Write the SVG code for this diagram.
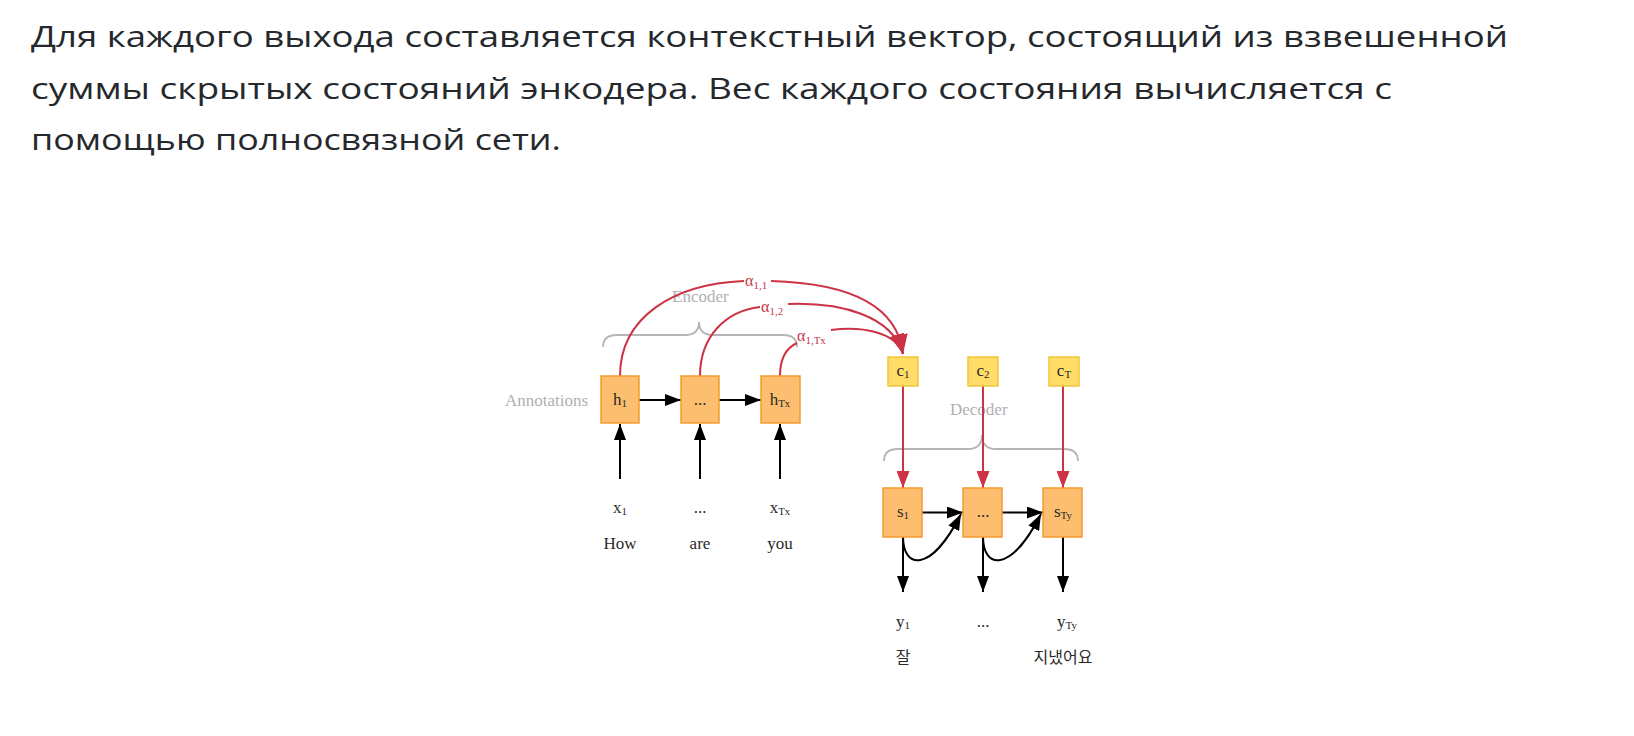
<svg xmlns="http://www.w3.org/2000/svg" width="1634" height="736" viewBox="0 0 1634 736">
<defs>
<style>
.para{font-family:"Open Sans","Noto Sans",sans-serif;font-size:30px;fill:#25282c}
.lab{font-family:"Liberation Serif",serif;font-size:17px;fill:#2a2a2a;text-anchor:middle}
.grey{font-family:"Liberation Serif",serif;font-size:17px;fill:#b0b0b0}
.alpha{font-family:"Liberation Serif",serif;font-size:16px;fill:#c8364a}
.kr{font-family:"Noto Sans CJK KR",sans-serif;font-size:16px;fill:#2a2a2a;text-anchor:middle}
.sub{font-size:11px}
.box{fill:#fdbf6f;stroke:#f39a2c;stroke-width:1.5}
.cbox{fill:#ffdd66;stroke:#f3c340;stroke-width:1.5}
.blk{stroke:#000;stroke-width:2;fill:none}
.red{stroke:#cc3344;stroke-width:2;fill:none}
.brace{stroke:#b5b5b5;stroke-width:1.8;fill:none}
</style>
<marker id="ab" markerUnits="userSpaceOnUse" viewBox="0 0 16 12" markerWidth="16" markerHeight="12" refX="16" refY="6" orient="auto"><path d="M0,0 L16,6 L0,12 z" fill="#000"/></marker>
<marker id="ar" markerUnits="userSpaceOnUse" viewBox="0 0 17 13" markerWidth="17" markerHeight="13" refX="17" refY="6.5" orient="auto"><path d="M0,0 L17,6.5 L0,13 z" fill="#cc3344"/></marker>
<marker id="arb" markerUnits="userSpaceOnUse" viewBox="0 0 20 14" markerWidth="20" markerHeight="14" refX="20" refY="7" orient="auto"><path d="M0,0 L20,7 L0,14 z" fill="#cc3344"/></marker>
</defs>
<rect width="1634" height="736" fill="#fff"/>

<g id="paragraph">
<text class="para" x="31" y="47" textLength="1477" lengthAdjust="spacingAndGlyphs">Для каждого выхода составляется контекстный вектор, состоящий из взвешенной</text>
<text class="para" x="31" y="98.5" textLength="1361" lengthAdjust="spacingAndGlyphs">суммы скрытых состояний энкодера. Вес каждого состояния вычисляется с</text>
<text class="para" x="31" y="150" textLength="530" lengthAdjust="spacingAndGlyphs">помощью полносвязной сети.</text>
</g>

<g id="braces">
<path class="brace" d="M603,347 C603,339 607,335 617,335 L685,335 C695,335 699,330 699,322 C699,330 703,335 713,335 L783,335 C793,335 797,339 797,347"/>
<path class="brace" d="M884,461 C884,453 888,449 898,449 L968,449 C978,449 982,444 982,435 C982,444 986,449 996,449 L1064,449 C1074,449 1078,453 1078,461"/>
<text class="grey" x="672" y="302">Encoder</text>
<text class="grey" x="950" y="415">Decoder</text>
<text class="grey" x="588" y="406" text-anchor="end">Annotations</text>
</g>

<g id="connectors">
<line class="blk" x1="639" y1="400" x2="681" y2="400" marker-end="url(#ab)"/>
<line class="blk" x1="719" y1="400" x2="761" y2="400" marker-end="url(#ab)"/>
<line class="blk" x1="620" y1="479" x2="620" y2="424" marker-end="url(#ab)"/>
<line class="blk" x1="700" y1="479" x2="700" y2="424" marker-end="url(#ab)"/>
<line class="blk" x1="780" y1="479" x2="780" y2="424" marker-end="url(#ab)"/>
<path class="red" d="M620,376 C620,318 672,284 744,281"/>
<path class="red" d="M771,281 C842,283 897,302 903,354" marker-end="url(#arb)"/>
<path class="red" d="M700,376 C700,336 726,311 760,307"/>
<path class="red" d="M788,304 C842,302 892,316 903,354" marker-end="url(#arb)"/>
<path class="red" d="M780,376 C780,360 786,348 797,343"/>
<path class="red" d="M831,330 C862,326 896,332 903,354" marker-end="url(#arb)"/>
<line class="red" x1="903" y1="386" x2="903" y2="488" marker-end="url(#ar)"/>
<line class="red" x1="983" y1="386" x2="983" y2="488" marker-end="url(#ar)"/>
<line class="red" x1="1063" y1="386" x2="1063" y2="488" marker-end="url(#ar)"/>
<line class="blk" x1="922" y1="512.5" x2="963" y2="512.5" marker-end="url(#ab)"/>
<line class="blk" x1="1002" y1="512.5" x2="1043" y2="512.5" marker-end="url(#ab)"/>
<path class="blk" d="M903,537 C903,568 930,575 961,514" marker-end="url(#ab)"/>
<path class="blk" d="M983,537 C983,568 1010,575 1041,514" marker-end="url(#ab)"/>
<line class="blk" x1="903" y1="537" x2="903" y2="592" marker-end="url(#ab)"/>
<line class="blk" x1="983" y1="537" x2="983" y2="592" marker-end="url(#ab)"/>
<line class="blk" x1="1063" y1="537" x2="1063" y2="592" marker-end="url(#ab)"/>
</g>

<g id="alpha-labels">
<text class="alpha" x="745" y="286">α<tspan class="sub" dy="3">1,1</tspan></text>
<text class="alpha" x="761" y="312">α<tspan class="sub" dy="3">1,2</tspan></text>
<text class="alpha" x="797" y="341">α<tspan class="sub" dy="3">1,Tx</tspan></text>
</g>

<g id="h1"><rect class="box" x="601" y="376" width="38" height="47"/><text class="lab" x="620" y="405">h<tspan class="sub" dy="2">1</tspan></text></g>
<g id="h2"><rect class="box" x="681" y="376" width="38" height="47"/><text class="lab" x="700" y="405">...</text></g>
<g id="hTx"><rect class="box" x="761" y="376" width="39" height="47"/><text class="lab" x="780" y="405">h<tspan class="sub" dy="2">Tx</tspan></text></g>

<g id="c1"><rect class="cbox" x="888" y="357" width="30" height="29"/><text class="lab" x="903" y="376">c<tspan class="sub" dy="2">1</tspan></text></g>
<g id="c2"><rect class="cbox" x="968" y="357" width="30" height="29"/><text class="lab" x="983" y="376">c<tspan class="sub" dy="2">2</tspan></text></g>
<g id="cT"><rect class="cbox" x="1049" y="357" width="30" height="29"/><text class="lab" x="1064" y="376">c<tspan class="sub" dy="2">T</tspan></text></g>

<g id="s1"><rect class="box" x="883" y="488" width="39" height="49"/><text class="lab" x="903" y="517">s<tspan class="sub" dy="2">1</tspan></text></g>
<g id="s2"><rect class="box" x="963" y="488" width="39" height="49"/><text class="lab" x="983" y="517">...</text></g>
<g id="sTy"><rect class="box" x="1043" y="488" width="39" height="49"/><text class="lab" x="1063" y="517">s<tspan class="sub" dy="2">Ty</tspan></text></g>

<g id="inputs">
<text class="lab" x="620" y="513">x<tspan class="sub" dy="2">1</tspan></text>
<text class="lab" x="700" y="513" fill="#777">...</text>
<text class="lab" x="780" y="513">x<tspan class="sub" dy="2">Tx</tspan></text>
<text class="lab" x="620" y="549">How</text>
<text class="lab" x="700" y="549">are</text>
<text class="lab" x="780" y="549">you</text>
</g>

<g id="outputs">
<text class="lab" x="903" y="627">y<tspan class="sub" dy="2">1</tspan></text>
<text class="lab" x="983" y="627">...</text>
<text class="lab" x="1067" y="627">y<tspan class="sub" dy="2">Ty</tspan></text>
<text class="kr" x="903" y="663">잘</text>
<text class="kr" x="1063" y="663">지냈어요</text>
</g>
</svg>
